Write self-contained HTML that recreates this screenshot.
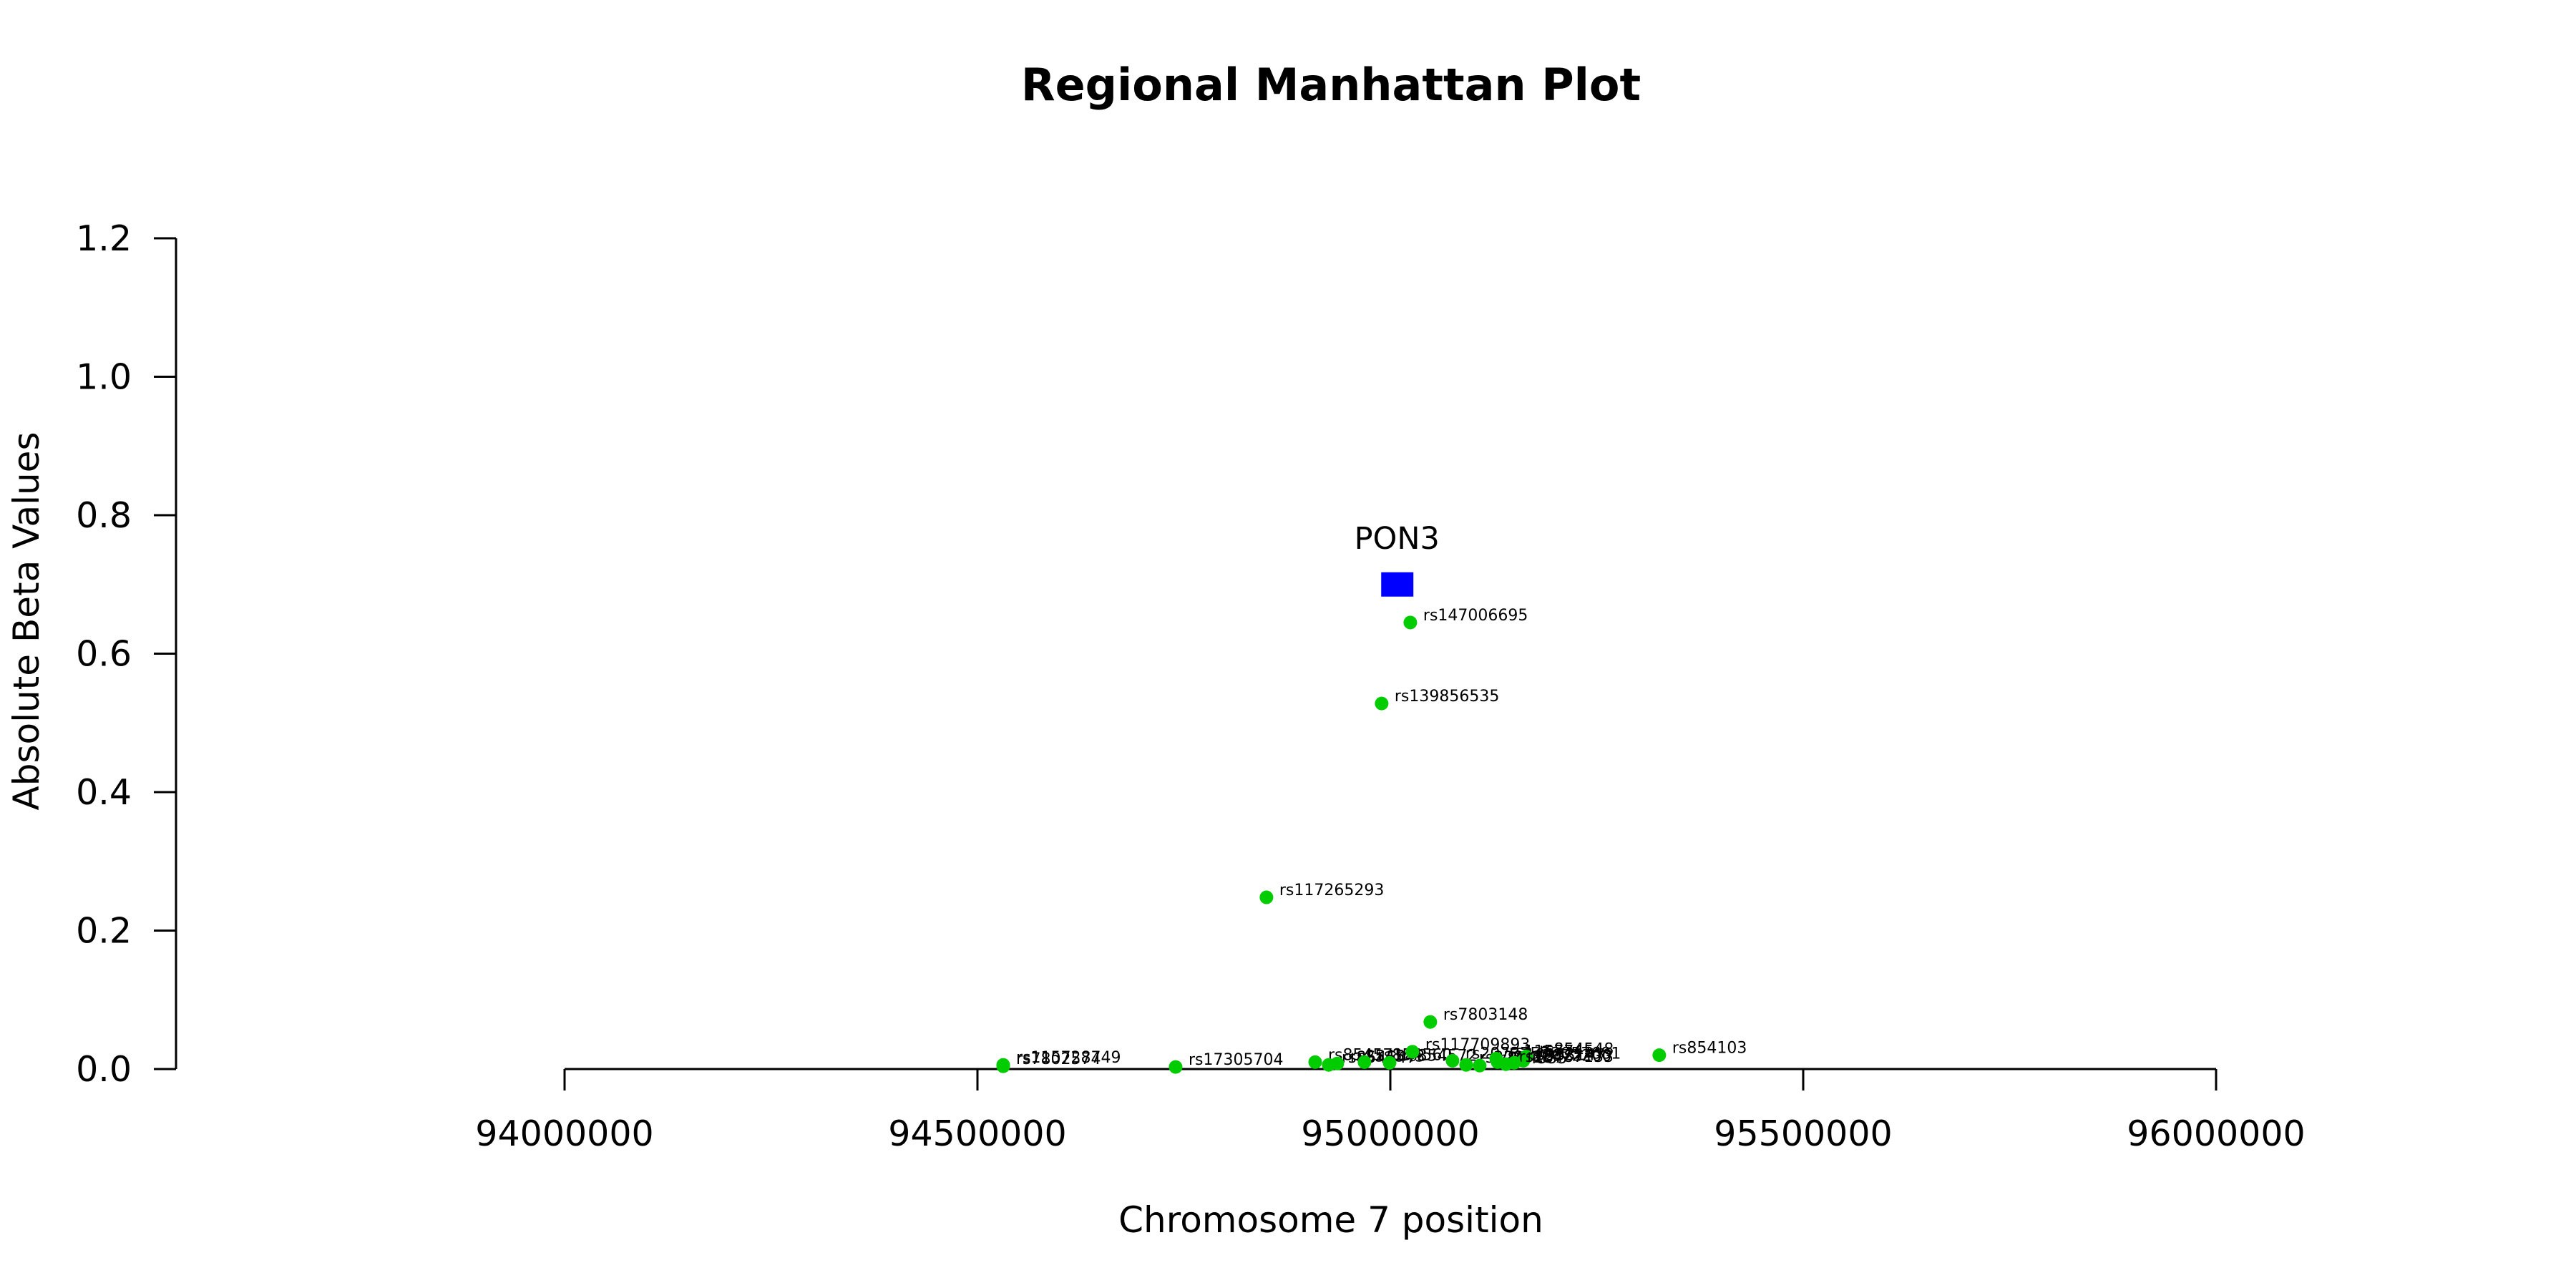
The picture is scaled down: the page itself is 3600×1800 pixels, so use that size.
<!DOCTYPE html>
<html><head><meta charset="utf-8"><style>
html,body{margin:0;padding:0;background:#fff;}
svg{display:block;font-family:"DejaVu Sans","Liberation Sans",sans-serif;}
</style></head><body>
<svg id="chart" width="3600" height="1800" viewBox="0 0 3600 1800">
<text x="1860" y="140" text-anchor="middle" font-size="62" font-weight="bold">Regional Manhattan Plot</text>
<text x="1860" y="1722" text-anchor="middle" font-size="50">Chromosome 7 position</text>
<text transform="translate(54,868) rotate(-90)" text-anchor="middle" font-size="50">Absolute Beta Values</text>
<g id="axes"></g><g id="marks"></g>
</svg>
<script>
const xTicks=[94000000,94500000,95000000,95500000,96000000];
const yTicks=[0,0.2,0.4,0.6,0.8,1.0,1.2];
const yTickLabels=["0.0","0.2","0.4","0.6","0.8","1.0","1.2"];
const snpNames=["rs147006695","rs139856535","rs117265293","rs7803148","rs854103","rs115728749","rs7802574","rs17305704",
"rs854571","rs854547","rs854543","rs854560","rs854572","rs117709893","rs2073757","rs2299257","rs854555","rs1157745","rs10953147","rs2057681","rs854548","rs10487133","rs2072200"];
const snpPos=[95024200,94989500,94850000,95048400,95325700,94531200,94531200,94740000,
94909000,94925400,94935800,94968700,94999100,95026800,95075300,95091800,95108200,95128200,95129900,95161100,95164600,95140000,95150000];
const snpBeta=[0.645,0.528,0.248,0.068,0.020,0.006,0.004,0.003,
0.010,0.006,0.008,0.010,0.009,0.025,0.012,0.006,0.005,0.015,0.010,0.012,0.018,0.007,0.009];
const geneNames=["PON3"];
const genePos=[95008000];
const geneBeta=[0.70];
const NS="http://www.w3.org/2000/svg";
const X=v=>789+(v-94000000)*2308/2000000;
const Y=v=>1494-967.5*v;
function mk(tag,attrs,parent){const e=document.createElementNS(NS,tag);for(const k in attrs)e.setAttribute(k,attrs[k]);parent.appendChild(e);return e;}
const axes=document.getElementById('axes'),marks=document.getElementById('marks');
let l=mk('line',{x1:246,x2:246,y1:Y(1.2),y2:Y(0),stroke:'#000','stroke-width':3},axes);


yTicks.forEach((t,i)=>{
 const tk=mk('line',{x1:215,x2:246,y1:Y(t),y2:Y(t),stroke:'#000','stroke-width':3},axes);
 
 
 const tx=mk('text',{x:184,y:Y(t)+17,'text-anchor':'end','font-size':49},axes);
 tx.textContent=yTickLabels[i];
 
 
});
l=mk('line',{x1:X(94000000),x2:X(96000000),y1:1494,y2:1494,stroke:'#000','stroke-width':3},axes);


xTicks.forEach(t=>{
 const tk=mk('line',{x1:X(t),x2:X(t),y1:1494,y2:1524,stroke:'#000','stroke-width':3},axes);
 
 
 const tx=mk('text',{x:X(t),y:1601,'text-anchor':'middle','font-size':49},axes);
 tx.textContent=String(t);
 
 
});
geneNames.forEach((g,i)=>{
 const r=mk('rect',{x:X(genePos[i])-22,y:Y(geneBeta[i])-17,width:45,height:34,fill:'#0000ff'},marks);
 
 
 const tx=mk('text',{x:X(genePos[i]),y:Y(geneBeta[i])-50,'text-anchor':'middle','font-size':43},marks);
 tx.textContent=g;
 
 
});
snpNames.forEach((n,i)=>{
 const cx=X(snpPos[i]),cy=Y(snpBeta[i]);
 const c=mk('circle',{cx:cx,cy:cy,r:9.5,fill:'#00cc00'},marks);
 
 
 const tx=mk('text',{x:cx+18,y:cy-3,'font-size':22},marks);
 tx.textContent=n;
 
 
});
</script>
</body></html>
